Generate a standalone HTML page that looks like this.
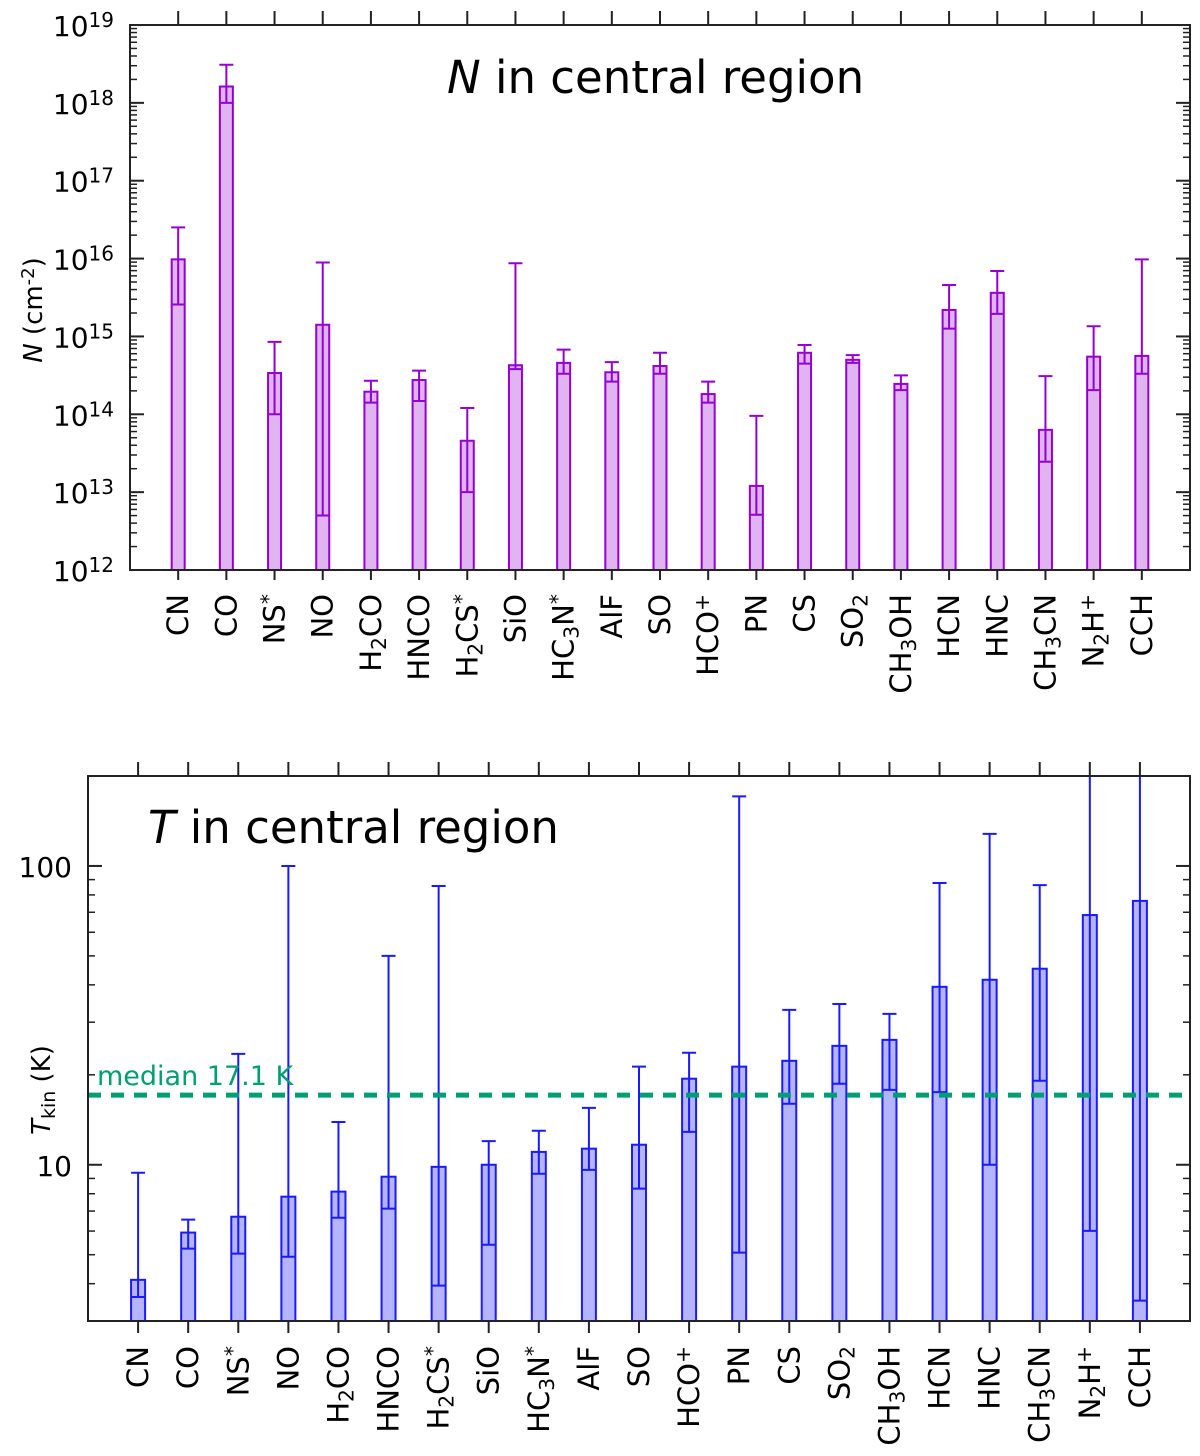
<!DOCTYPE html>
<html><head><meta charset="utf-8"><style>
html,body{margin:0;padding:0;background:#fff}
svg{display:block;font-family:"DejaVu Sans","Liberation Sans",sans-serif}
</style></head><body>
<svg id="chart" width="1200" height="1456" viewBox="0 0 1200 1456"></svg>
<script>
const categories=[["CN"],["CO"],["NS","*sup"],["NO"],["H","2sub","CO"],["HNCO"],["H","2sub","CS","*sup"],["SiO"],["HC","3sub","N","*sup"],["AlF"],["SO"],["HCO","+sup"],["PN"],["CS"],["SO","2sub"],["CH","3sub","OH"],["HCN"],["HNC"],["CH","3sub","CN"],["N","2sub","H","+sup"],["CCH"]];
// log10 N (cm^-2)
const nValue=[15.99,18.21,14.53,15.15,14.29,14.44,13.66,14.63,14.66,14.54,14.62,14.26,13.08,14.79,14.70,14.39,15.34,15.56,13.80,14.74,14.75];
const nErrLow=[15.41,18.0,14.0,12.70,14.15,14.17,13.0,14.58,14.52,14.42,14.52,14.15,12.71,14.65,14.66,14.31,15.1,15.29,13.39,14.31,14.52];
const nErrHigh=[16.40,18.49,14.93,15.95,14.43,14.56,14.08,15.94,14.83,14.67,14.79,14.42,13.98,14.89,14.76,14.5,15.66,15.84,14.49,15.13,15.99];
// T kin (K)
const tValue=[4.12,5.93,6.70,7.82,8.13,9.12,9.84,10.0,11.04,11.32,11.67,19.41,21.3,22.28,25.0,26.18,39.4,41.6,45.3,68.5,76.4];
const tErrLow=[3.61,5.24,5.04,4.92,6.65,7.13,3.94,5.40,9.33,9.61,8.32,12.88,5.08,16.0,18.66,17.8,17.5,10.0,19.1,6.01,3.51];
const tErrHigh=[9.40,6.55,23.5,100,13.9,50.0,85.7,12.0,13.0,15.5,21.3,23.7,171,33.0,34.5,32.0,87.7,128,86.3,400,400];
const nTicks=[12,13,14,15,16,17,18,19];
const tTicks=[10,100];
const tMedian=17.1;

const svg=document.getElementById('chart');
const NS='http://www.w3.org/2000/svg';
function mk(tag,attrs,parent){const e=document.createElementNS(NS,tag);for(const k in attrs)e.setAttribute(k,attrs[k]);(parent||svg).appendChild(e);return e;}

function label(parent,parts,x,y,size){
  const t=mk('text',{x:x,y:y,'font-size':size,'text-anchor':'end',transform:`rotate(-90 ${x} ${y})`},parent);
  parts.forEach(p=>{
    const ts=mk('tspan',{},t);
    if(p.endsWith('sub')){ts.textContent=p.slice(0,-3);ts.setAttribute('baseline-shift','-25%');ts.setAttribute('font-size',size*0.7);}
    else if(p.endsWith('sup')){ts.textContent=p.slice(0,-3);ts.setAttribute('baseline-shift','45%');ts.setAttribute('font-size',size*0.7);}
    else ts.textContent=p;
  });
  return t;
}

// ---------- Top panel ----------
const P1={l:130,r:1190,t:25,b:570,min:12,max:19};
const xs1=i=>P1.l+(i+1)*(P1.r-P1.l)/(categories.length+1);
const ys1=v=>P1.b-(v-P1.min)/(P1.max-P1.min)*(P1.b-P1.t);
const g1=mk('g',{});


categories.forEach((c,i)=>{
  const x=xs1(i);
  const bar=mk('rect',{x:x-6.5,y:ys1(nValue[i]),width:13,height:P1.b-ys1(nValue[i]),fill:'#e0b4f0',stroke:'#9400d3','stroke-width':2},g1);
  
  
  const eb=mk('path',{d:`M${x},${ys1(nErrLow[i])}V${ys1(nErrHigh[i])}M${x-7},${ys1(nErrHigh[i])}h14M${x-7},${ys1(nErrLow[i])}h14`,stroke:'#9400d3','stroke-width':2,fill:'none'},g1);
  
  
  mk('line',{x1:x,x2:x,y1:P1.t,y2:P1.t-14,stroke:'#222','stroke-width':2},g1);
  mk('line',{x1:x,x2:x,y1:P1.b,y2:P1.b+10,stroke:'#222','stroke-width':2},g1);
  const lb=label(g1,c,x+10,594,29);
  
  
});
const ax1=mk('rect',{x:P1.l,y:P1.t,width:P1.r-P1.l,height:P1.b-P1.t,fill:'none',stroke:'#222','stroke-width':2},g1);


nTicks.forEach(d=>{
  const y=ys1(d);
  mk('line',{x1:P1.l,x2:P1.l+14,y1:y,y2:y,stroke:'#222','stroke-width':2},g1);
  mk('line',{x1:P1.r,x2:P1.r-14,y1:y,y2:y,stroke:'#222','stroke-width':2},g1);
  if(d<P1.max)for(let m=2;m<10;m++){const ym=ys1(d+Math.log10(m));
    mk('line',{x1:P1.l,x2:P1.l+7,y1:ym,y2:ym,stroke:'#222','stroke-width':1.5},g1);
    mk('line',{x1:P1.r,x2:P1.r-7,y1:ym,y2:ym,stroke:'#222','stroke-width':1.5},g1);}
  const t=mk('text',{x:114,y:y+11,'font-size':28,'text-anchor':'end'},g1);
  
  
  t.textContent='10';const s=mk('tspan',{'baseline-shift':'45%','font-size':20},t);s.textContent=String(d);
});
const yt1=mk('text',{x:42,y:310,'font-size':26,'text-anchor':'middle',transform:'rotate(-90 42 310)'},g1);


yt1.innerHTML='<tspan font-style="italic">N</tspan> (cm<tspan baseline-shift="45%" font-size="18">-2</tspan>)';
const ti1=mk('text',{x:447,y:93,'font-size':45},g1);


ti1.innerHTML='<tspan font-style="italic">N</tspan> in central region';

// ---------- Bottom panel ----------
const P2={l:88,r:1190,t:776,b:1321,min:Math.log10(3),max:Math.log10(200)};
const xs2=i=>P2.l+(i+1)*(P2.r-P2.l)/(categories.length+1);
const ys2=v=>{const l=Math.log10(v);return P2.b-(l-P2.min)/(P2.max-P2.min)*(P2.b-P2.t);};
const clampY=y=>Math.max(P2.t,y);
const g2=mk('g',{});


categories.forEach((c,i)=>{
  const x=xs2(i);
  const bar=mk('rect',{x:x-7,y:ys2(tValue[i]),width:14,height:P2.b-ys2(tValue[i]),fill:'#b4b4ff',stroke:'#1a1aff','stroke-width':2},g2);
  
  
  const yh=ys2(tErrHigh[i]),yl=ys2(tErrLow[i]);
  let d=`M${x},${yl}V${clampY(yh)}M${x-7},${yl}h14`;
  if(yh>=P2.t)d+=`M${x-7},${yh}h14`;
  const eb=mk('path',{d:d,stroke:'#1a1aff','stroke-width':2,fill:'none'},g2);
  
  
  mk('line',{x1:x,x2:x,y1:P2.t,y2:P2.t-14,stroke:'#222','stroke-width':2},g2);
  mk('line',{x1:x,x2:x,y1:P2.b,y2:P2.b+12,stroke:'#222','stroke-width':2},g2);
  const lb=label(g2,c,x+10,1346,29);
  
  
});
const med=mk('line',{x1:P2.l,x2:P2.r,y1:ys2(tMedian),y2:ys2(tMedian),stroke:'#009e73','stroke-width':5,'stroke-dasharray':'13,10'},g2);


const mt=mk('text',{x:97,y:ys2(tMedian)-10,'font-size':27,fill:'#009e73'},g2);


mt.textContent='median '+tMedian+' K';
const ax2=mk('rect',{x:P2.l,y:P2.t,width:P2.r-P2.l,height:P2.b-P2.t,fill:'none',stroke:'#222','stroke-width':2},g2);


for(let m=3;m<=200;m+=(m<10?1:m<100?10:100)){
  const y=ys2(m);const major=(m===10||m===100);const L=major?14:7;
  mk('line',{x1:P2.l,x2:P2.l+L,y1:y,y2:y,stroke:'#222','stroke-width':major?2:1.5},g2);
  mk('line',{x1:P2.r,x2:P2.r-L,y1:y,y2:y,stroke:'#222','stroke-width':major?2:1.5},g2);
}
tTicks.forEach(v=>{
  const t=mk('text',{x:72,y:ys2(v)+11,'font-size':28,'text-anchor':'end'},g2);
  
  
  t.textContent=String(v);
});
const yt2=mk('text',{x:50,y:1090,'font-size':26,'text-anchor':'middle',transform:'rotate(-90 50 1090)'},g2);


yt2.innerHTML='<tspan font-style="italic">T</tspan><tspan baseline-shift="-25%" font-size="19">kin</tspan> (K)';
const ti2=mk('text',{x:148,y:843,'font-size':45},g2);


ti2.innerHTML='<tspan font-style="italic">T</tspan> in central region';
</script>
</body></html>
